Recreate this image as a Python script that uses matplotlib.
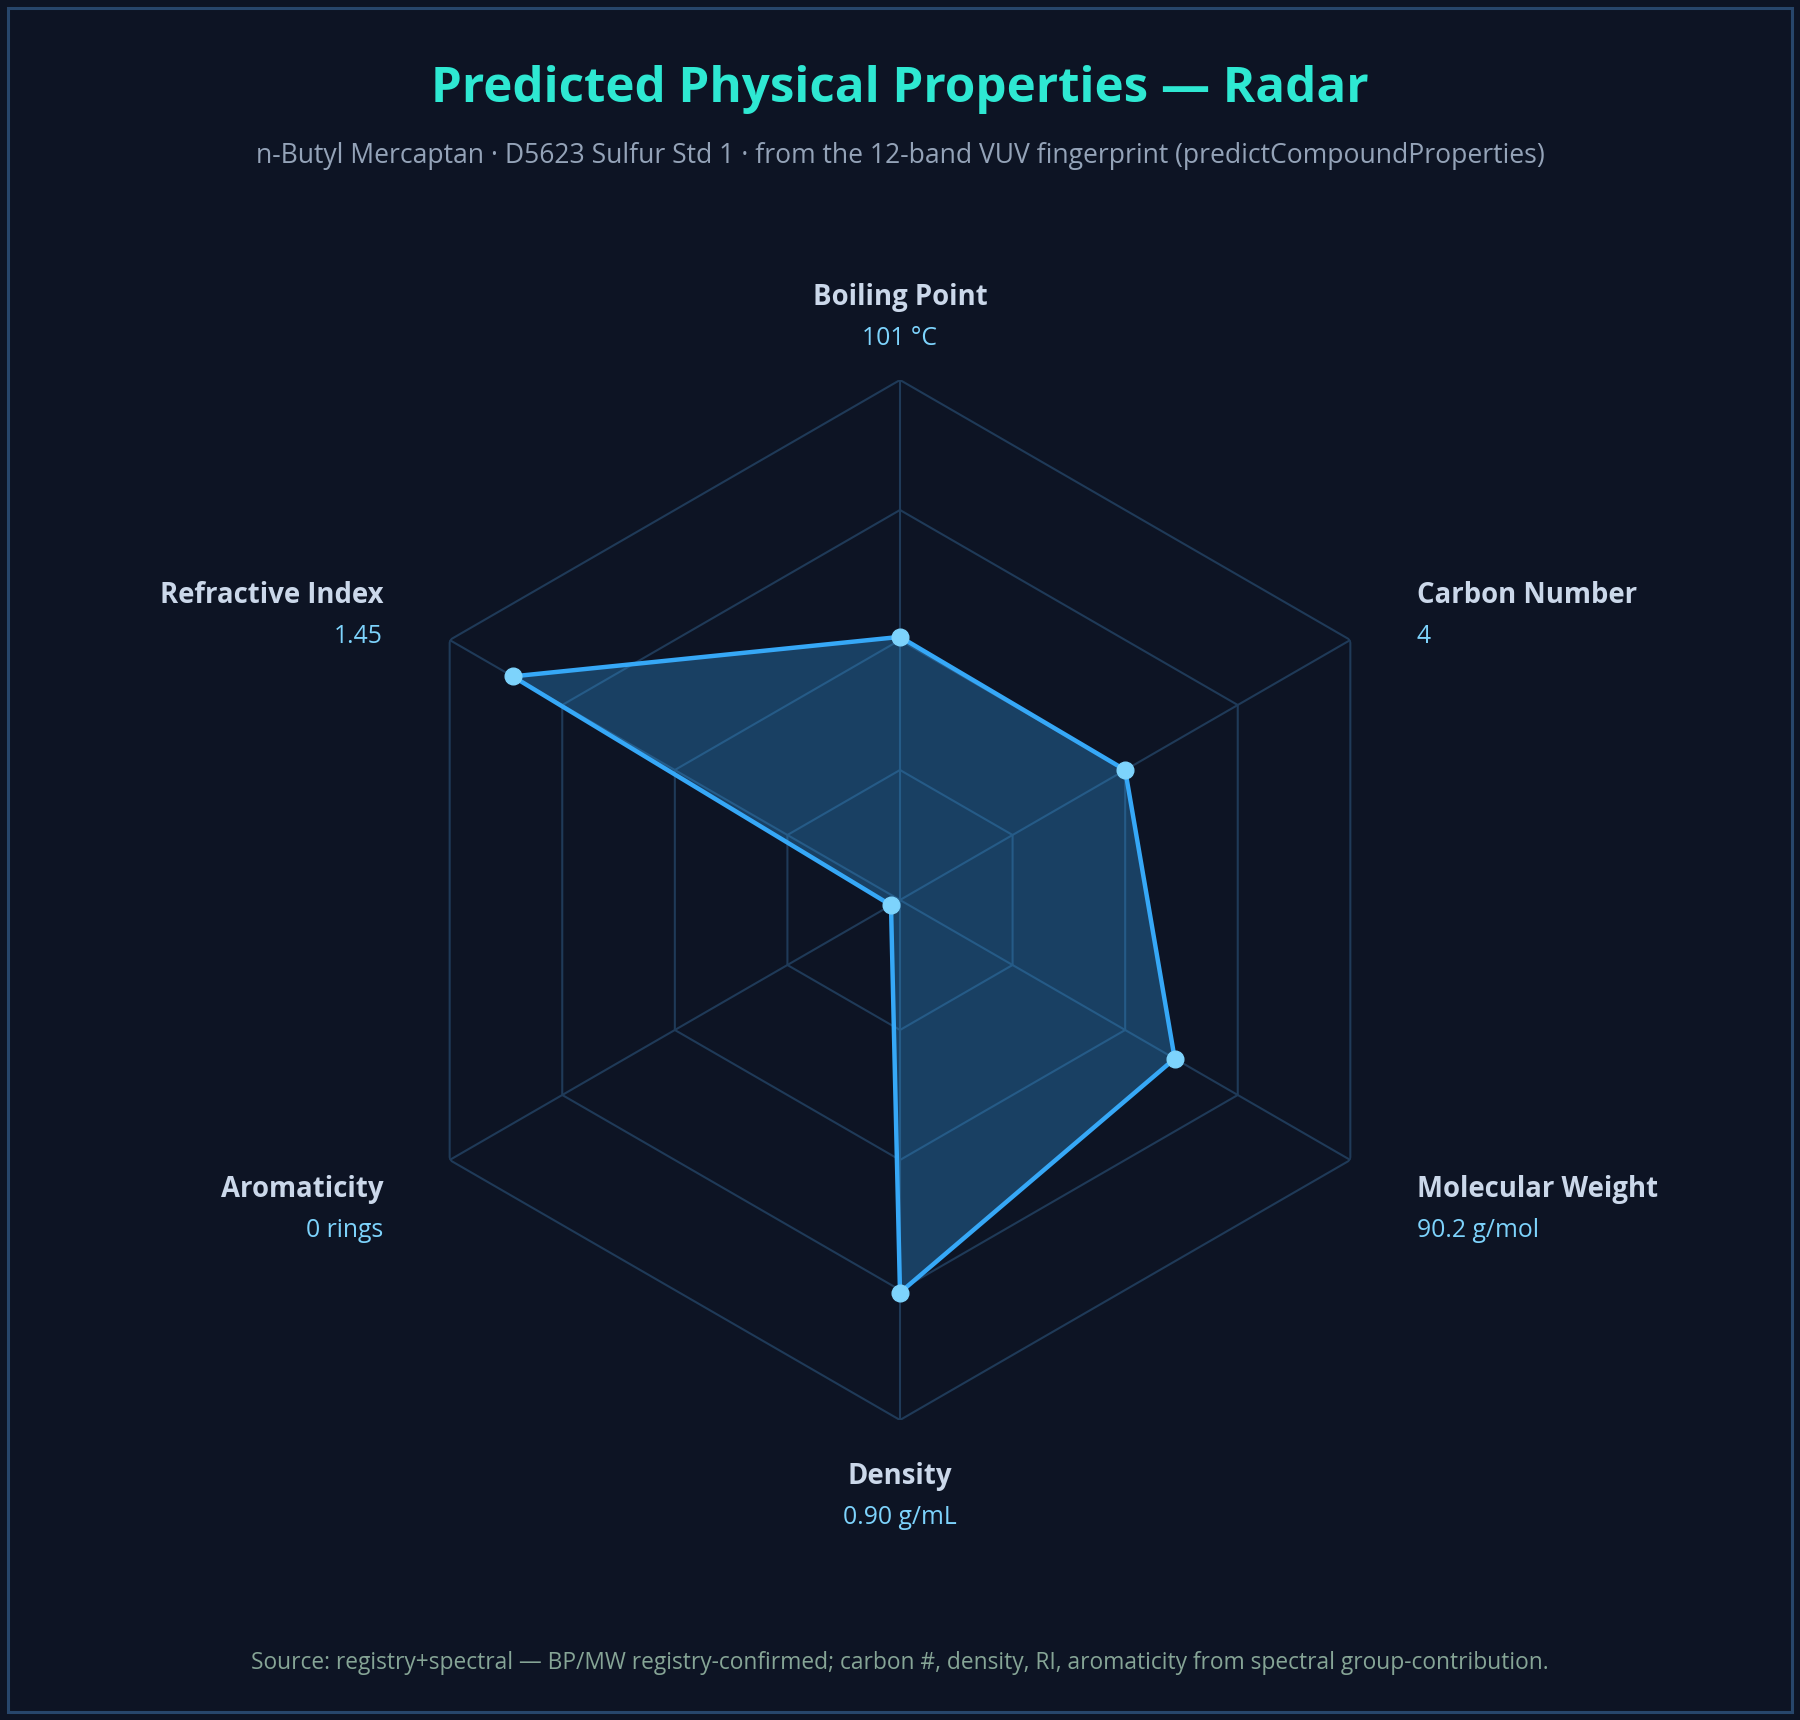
import numpy as np
import matplotlib
matplotlib.use("Agg")
import matplotlib.pyplot as plt
from matplotlib.patches import Rectangle

# data
properties = ["Boiling Point", "Carbon Number", "Molecular Weight",
              "Density", "Aromaticity", "Refractive Index"]
value_labels = ["101 °C", "4", "90.2 g/mol", "0.90 g/mL", "0 rings", "1.45"]
scores = [0.506, 0.50, 0.61, 0.755, 0.02, 0.86]
ring_levels = [0.25, 0.5, 0.75, 1.0]

title = "Predicted Physical Properties — Radar"
subtitle = ("n-Butyl Mercaptan · D5623 Sulfur Std 1 · from the 12-band VUV "
            "fingerprint (predictCompoundProperties)")
footer = ("Source: registry+spectral — BP/MW registry-confirmed; carbon #, density, "
          "RI, aromaticity from spectral group-contribution.")

# colours
BG = "#0d1424"
BORDER = "#27466b"
GRID = "#1f3a58"
LINE = "#36a8f7"
MARKER = "#7dd3fc"
TITLE_C = "#2ee8d2"
SUB_C = "#94a3b8"
LABEL_C = "#cbd8ea"
VALUE_C = "#7dd3fc"
FOOT_C = "#86a596"

plt.rcParams['font.family'] = ['Open Sans', 'DejaVu Sans']

fig = plt.figure(figsize=(18, 17.2), dpi=100, facecolor=BG)
fig.patches.append(Rectangle((0.0045, 0.0045), 0.991, 0.991, transform=fig.transFigure,
                             fill=False, edgecolor=BORDER, linewidth=2.2))

ax = fig.add_axes([380 / 1800, 300 / 1720, 1040 / 1800, 1040 / 1720], projection='polar')
ax.set_facecolor("none")
ax.set_theta_offset(np.pi / 2)
ax.set_theta_direction(-1)
ax.set_ylim(0, 1)
ax.grid(False)
ax.spines['polar'].set_visible(False)
ax.set_xticks([])
ax.set_yticks([])

n = len(properties)
theta = np.linspace(0, 2 * np.pi, n, endpoint=False)
theta_c = np.append(theta, theta[0])

# hexagon rings + spokes
for lvl in ring_levels:
    ax.plot(theta_c, [lvl] * (n + 1), color=GRID, lw=1.5, zorder=1)
for t in theta:
    ax.plot([t, t], [0, 1], color=GRID, lw=1.5, zorder=1)

vals = np.append(scores, scores[0])
ax.fill(theta_c, vals, color=LINE, alpha=0.3, lw=0, zorder=2)
ax.plot(theta_c, vals, color=LINE, lw=3.2, zorder=3)
ax.plot(theta, scores, 'o', color=MARKER, ms=12, mec=MARKER, zorder=4, clip_on=False)

# axis labels (small nudges, in pixels)
dx = [0, -10, -10, 0, 10, 10]
dy = [-6, 0, 15, 32, 15, 0]
for i, t in enumerate(theta):
    ang = np.degrees(t)
    if ang < 1 or abs(ang - 180) < 1:
        ha = 'center'
    elif ang < 180:
        ha = 'left'
    else:
        ha = 'right'
    ax.annotate(properties[i], xy=(t, 1.17), xytext=(dx[i], dy[i]), textcoords='offset pixels',
                ha=ha, va='center', fontsize=19.8, fontweight='bold', color=LABEL_C,
                annotation_clip=False)
    ax.annotate(value_labels[i], xy=(t, 1.17), xytext=(dx[i], dy[i] - 41),
                textcoords='offset pixels', ha=ha, va='center', fontsize=17.8,
                color=VALUE_C, annotation_clip=False)

fig.text(0.5, 1 - 89 / 1720, title, ha='center', va='center', fontsize=35.5,
         fontweight='bold', color=TITLE_C)
fig.text(0.5, 1 - 156 / 1720, subtitle, ha='center', va='center', fontsize=19.1, color=SUB_C)
fig.text(0.5, 1 - 1663 / 1720, footer, ha='center', va='center', fontsize=16.4, color=FOOT_C)

fig.savefig("out.png", dpi=100, facecolor=BG)
